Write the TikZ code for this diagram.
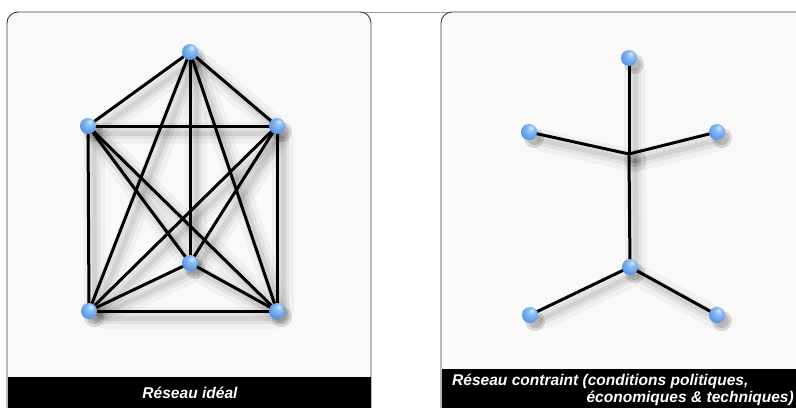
\documentclass[tikz,border=0pt]{standalone}
\usepackage{fontspec}
\setmainfont{Liberation Sans}
\pgfdeclarelayer{bg}
\pgfdeclarelayer{shad}
\pgfsetlayers{bg,shad,main}
\definecolor{panelfill}{HTML}{F9F9F9}
\definecolor{panelline}{HTML}{3C3C3C}
\definecolor{topline}{HTML}{A0A0A0}
\definecolor{ballhi}{HTML}{D8ECFF}
\definecolor{ballA}{HTML}{8CC0F6}
\definecolor{ballB}{HTML}{5A94E2}
\definecolor{ballC}{HTML}{3E74C4}
\pgfdeclareradialshading{spherefill}{\pgfpoint{6bp}{14bp}}{%
  color(0bp)=(ballhi); color(10bp)=(ballA); color(30bp)=(ballB); color(48bp)=(ballC); color(60bp)=(ballC)}
\tikzset{
  sphere/.style={circle, minimum size=16bp, inner sep=0pt},
  link/.style={line width=3bp, black},
  shadA/.style={line width=22bp, black, opacity=0.035, line cap=round, transform canvas={shift={(6bp,-7bp)}}},
  shadB/.style={line width=12bp, black, opacity=0.055, line cap=round, transform canvas={shift={(6bp,-7bp)}}},
  shadC/.style={line width=5bp, black, opacity=0.07, line cap=round, transform canvas={shift={(6bp,-7bp)}}},
  ballshadow/.style={fill=black, opacity=0.13},
  panel/.style={fill=panelfill, draw=panelline, line width=0.9bp, rounded corners=11bp},
  band/.style={fill=black},
  caption/.style={text=white, font=\fontsize{15.6}{17}\selectfont\bfseries\itshape, inner sep=0pt}
}
\begin{document}
\begin{tikzpicture}[x=1bp, y=-1bp]
\clip (0,0) rectangle (796,407);

% panels
\begin{pgfonlayer}{bg}
  \fill[white] (0,0) rectangle (796,407);
  \draw[topline, line width=0.9bp] (360,12) -- (452,12);
  \draw[panel] (7,430) |- (371,12) -- (371,430);
  \draw[panel] (441,430) |- (830,12) -- (830,430);
  \fill[band] (7.5,377) rectangle (370.5,410);
  \fill[band] (441.5,369) rectangle (800,410);
\end{pgfonlayer}

% captions
\node[caption] (capA) at (190,393) {Réseau idéal};
\node[caption, anchor=west] (capB1) at (452,381) {Réseau contraint (conditions politiques,};
\node[caption, anchor=east] (capB2) at (794,398) {économiques \& techniques)};

% left network: complete graph
\node[sphere] (t)  at (190,52)  {};
\node[sphere] (ul) at (88,126)  {};
\node[sphere] (ur) at (277,126) {};
\node[sphere] (c)  at (190,263) {};
\node[sphere] (bl) at (89,311)  {};
\node[sphere] (br) at (277,311) {};

% right network: tree
\node[sphere] (rt) at (629,58)  {};
\node[sphere] (rl) at (529,132) {};
\node[sphere] (rr) at (717,132) {};
\coordinate (rj) at (629,154);
\node[sphere] (rc) at (630,267) {};
\node[sphere] (rbl) at (530,315) {};
\node[sphere] (rbr) at (717,315) {};

\begin{pgfonlayer}{shad}
  \foreach \a/\b in {t/ul,t/ur,t/c,t/bl,t/br,ul/ur,ul/c,ul/bl,ul/br,ur/c,ur/bl,ur/br,c/bl,c/br,bl/br,
                     rt/rj,rl/rj,rr/rj,rj/rc,rc/rbl,rc/rbr} {
    \draw[shadA] (\a) -- (\b);
    \draw[shadB] (\a) -- (\b);
    \draw[shadC] (\a) -- (\b);
  }
  \foreach \n in {t,ul,ur,c,bl,br,rt,rl,rr,rc,rbl,rbr} {
    \fill[ballshadow, transform canvas={shift={(5bp,-6bp)}}] (\n) circle (10bp);
    \fill[ballshadow, transform canvas={shift={(5bp,-6bp)}}] (\n) circle (7bp);
  }
\end{pgfonlayer}

\foreach \a/\b in {t/ul,t/ur,t/c,t/bl,t/br,ul/ur,ul/c,ul/bl,ul/br,ur/c,ur/bl,ur/br,c/bl,c/br,bl/br} {
  \draw[link] (\a.center) -- (\b.center);
}
\draw[link] (rt.center) -- (rj);
\draw[link] (rl.center) -- (rj);
\draw[link] (rr.center) -- (rj);
\draw[link] (rj) -- (rc.center);
\draw[link] (rc.center) -- (rbl.center);
\draw[link] (rc.center) -- (rbr.center);

% spheres on top of links
\foreach \n in {t,ul,ur,c,bl,br,rt,rl,rr,rc,rbl,rbr} {
  \path[shading=spherefill] (\n) circle (8bp);
}
\end{tikzpicture}
\end{document}
